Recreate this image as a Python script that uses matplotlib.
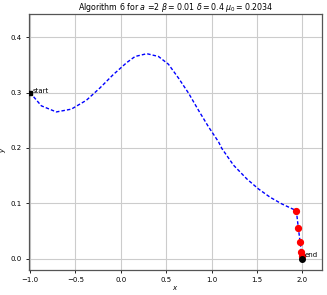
import matplotlib
matplotlib.use("Agg")
from matplotlib import pyplot as plt

# path (blue dashed curve)
path_x = [-1.0, -0.875, -0.71, -0.545, -0.379, -0.231, -0.085, 0.066, 0.158, 0.287,
          0.415, 0.525, 0.636, 0.746, 0.856, 0.967, 1.077, 1.114, 1.242, 1.39,
          1.518, 1.647, 1.776, 1.934, 1.956, 1.976, 1.988, 1.996]
path_y = [0.300, 0.276, 0.265, 0.270, 0.286, 0.308, 0.332, 0.354, 0.365, 0.370,
          0.365, 0.351, 0.326, 0.299, 0.268, 0.238, 0.211, 0.199, 0.169, 0.144,
          0.126, 0.111, 0.099, 0.087, 0.056, 0.030, 0.013, 0.000]

# red iterates near the end
red_x = [1.934, 1.956, 1.976, 1.988, 1.993]
red_y = [0.087, 0.056, 0.030, 0.013, 0.005]

start = (-1.0, 0.300)
end = (1.996, 0.000)

plt.rcParams["font.size"] = 5
fig = plt.figure(figsize=(3.27, 2.95), dpi=100)
ax = fig.add_axes([0.0887, 0.0847, 0.8969, 0.8668])

ax.plot(path_x, path_y, "b--", lw=1.0, dashes=(2.5, 1.5), zorder=2)
ax.plot(red_x, red_y, "ro", ms=4.2, zorder=3)
ax.plot(*start, "ks", ms=3.5, zorder=4)
ax.plot(*end, "ko", ms=4, zorder=4)
ax.text(start[0] + 0.03, start[1] - 0.002, "start", fontsize=5, va="bottom")
ax.text(end[0] + 0.03, end[1] + 0.001, "end", fontsize=5, va="bottom")

ax.set_xlim(-1.011, 2.22)
ax.set_ylim(-0.02, 0.441)
ax.grid(True, color="#cccccc", lw=0.8)
ax.set_axisbelow(True)
ax.tick_params(labelsize=5, length=2.5, width=0.6, pad=2.5)
for s in ax.spines.values():
    s.set_linewidth(0.9)
    s.set_color("#555555")
ax.set_xlabel("$x$", fontsize=5, labelpad=1)
ax.set_ylabel("$y$", fontsize=5)
ax.yaxis.set_label_coords(-0.072, 0.47)
ax.set_title(r"Algorithm 6 for $a$ =2 $\beta = 0.01$ $\delta = 0.4$ $\mu_0 = 0.2034$",
             fontsize=5.7, pad=3)

fig.savefig("out.png", dpi=100)
